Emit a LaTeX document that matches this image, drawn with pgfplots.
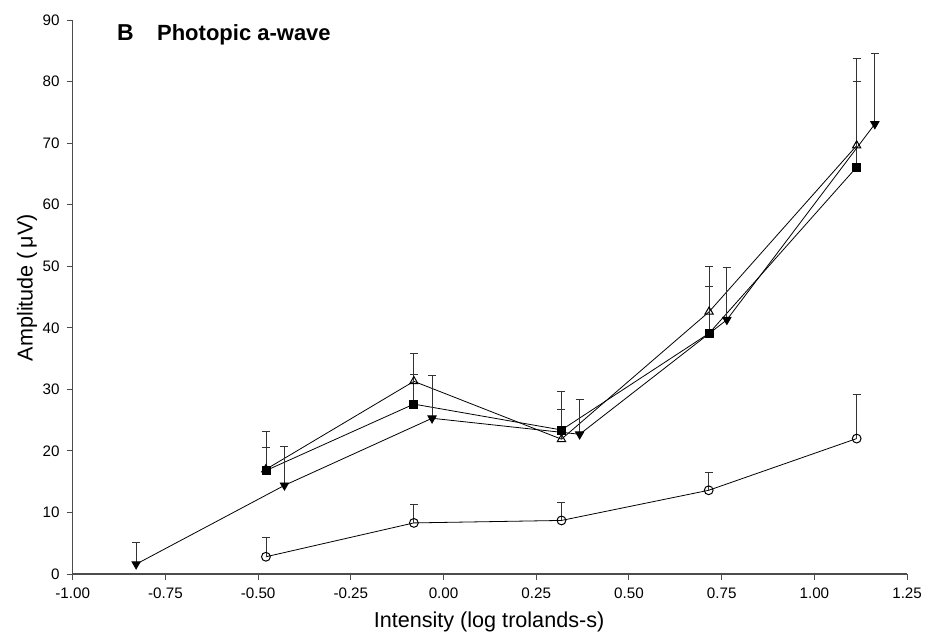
\documentclass[border=0pt]{standalone}
\usepackage{fontspec}
\setmainfont{Liberation Sans}
\usepackage{pgfplots}
\pgfplotsset{compat=1.18}

\begin{document}
\begin{tikzpicture}
\path[use as bounding box] (-36.35pt,-32pt) rectangle (427.65pt,287pt);
\begin{axis}[
  at={(0,0)}, anchor=south west,
  scale only axis, width=417.2pt, height=277pt,
  xmin=-1, xmax=1.25, ymin=0, ymax=90,
  axis x line*=bottom, axis y line*=left,
  axis line style={black!70, line width=0.6pt},
  xtick={-1,-0.75,-0.5,-0.25,0,0.25,0.5,0.75,1,1.25},
  xticklabels={-1.00,-0.75,-0.50,-0.25,0.00,0.25,0.50,0.75,1.00,1.25},
  ytick={0,10,20,30,40,50,60,70,80,90},
  tick align=outside, major tick length=3pt,
  tick style={black!70, line width=0.5pt},
  ticklabel style={font=\fontsize{7.6}{9}\selectfont},
  xticklabel style={yshift=-0.5pt},
  /pgf/number format/assume math mode=true,
  clip=false,
  every axis plot/.append style={line width=0.4pt},
  err/.style={error bars/.cd, y dir=plus, y explicit,
    error mark=-,
    error bar style={line width=0.4pt, black!80},
    error mark options={rotate=90, line width=0.4pt, mark size=2pt, black!80}},
]

% open triangles
\addplot[black, mark=triangle, mark size=2.4pt, mark options={fill=white, line width=0.5pt}, err]
  table[x=x, y=y, y error=e] {
x      y     e
-0.479 17.0  6.1
-0.080 31.3  4.6
 0.318 21.9  7.7
 0.716 42.6  7.3
 1.114 69.6  14.2
};

% filled squares
\addplot[black, mark=square*, mark size=2pt, err]
  table[x=x, y=y, y error=e] {
x      y     e
-0.479 16.8  3.8
-0.080 27.6  4.9
 0.318 23.4  3.3
 0.716 39.1  7.6
 1.114 66.1  14.0
};

% filled down triangles
\addplot[black, mark=triangle*, mark size=2.4pt, mark options={rotate=180}, err]
  table[x=x, y=y, y error=e] {
x      y     e
-0.829 1.6   3.5
-0.429 14.4  6.4
-0.031 25.3  6.9
 0.367 22.7  5.6
 0.764 41.3  8.5
 1.163 73.1  11.4
};

% open circles
\addplot[black, mark=o, mark size=2.2pt, mark options={fill=white, line width=0.5pt}, err]
  table[x=x, y=y, y error=e] {
x      y     e
-0.479 2.8   3.2
-0.080 8.3   3.0
 0.318 8.7   3.0
 0.715 13.6  2.9
 1.114 22.0  7.1
};

\node[anchor=base west, inner sep=0, font=\fontsize{11.5}{13}\selectfont\bfseries]
  at (rel axis cs:0.0528,0.9627) {B};
\node[anchor=base west, inner sep=0, font=\fontsize{11}{12}\selectfont\bfseries]
  at (rel axis cs:0.1007,0.9627) {Photopic a-wave};
\node[rotate=90, inner sep=0, font=\fontsize{10.8}{12}\selectfont]
  at (rel axis cs:-0.0548,0.517) {Amplitude (\,μV)};
\node[anchor=base, inner sep=0, font=\fontsize{10.8}{12}\selectfont]
  at ([yshift=-26.8pt]rel axis cs:0.499,0) {Intensity (log trolands-s)};
\end{axis}
\end{tikzpicture}
\end{document}
